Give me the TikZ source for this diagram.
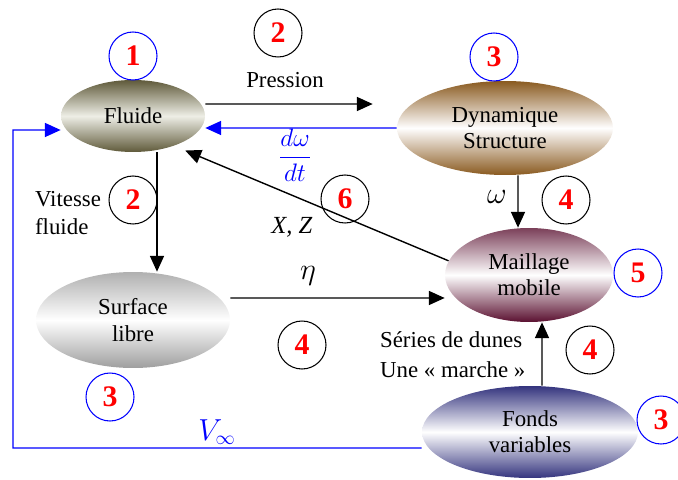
\documentclass[tikz,border=0pt]{standalone}
\usepackage{fontspec}
\setmainfont{Liberation Serif}
\usetikzlibrary{shapes.geometric,arrows.meta}
\definecolor{flc}{HTML}{5F5A3A}
\definecolor{flm}{HTML}{EEEEE6}
\definecolor{dyc}{HTML}{8A5A20}
\definecolor{mac}{HTML}{5A1030}
\definecolor{suc}{HTML}{B0B0B0}
\definecolor{foc}{HTML}{34347E}
\begin{document}
\begin{tikzpicture}[x=0.02cm,y=-0.02cm,
 blob/.style={ellipse, inner sep=0pt, align=center, font=\fontsize{13}{15}\selectfont},
 num/.style={circle, draw=#1, line width=0.6pt, minimum size=0.96cm, inner sep=0pt, text=red, font=\fontsize{17}{17}\selectfont\bfseries},
 arr/.style={-{Triangle[length=9pt,width=8pt]}, line width=0.8pt},
 lbl/.style={font=\fontsize{13}{16}\selectfont, inner sep=1pt},
 mlbl/.style={font=\fontsize{16}{18}\selectfont, inner sep=1pt}]
\useasboundingbox (0,0) rectangle (678,479);
\clip (0,0) rectangle (678,479);

% main nodes
\node[blob, minimum width=2.88cm, minimum height=1.44cm, top color=flc, bottom color=flc, middle color=flm] (fluide) at (133,116) {Fluide};
\node[blob, minimum width=4.32cm, minimum height=1.88cm, top color=dyc, bottom color=dyc, middle color=white] (dyn) at (505,128) {Dynamique\\Structure};
\node[blob, minimum width=3.36cm, minimum height=1.88cm, top color=mac!80, bottom color=mac, middle color=white] (maill) at (529,275) {Maillage\\mobile};
\node[blob, minimum width=3.88cm, minimum height=1.92cm, top color=suc, bottom color=suc!90!black, middle color=white] (surf) at (133,320) {Surface\\libre};
\node[blob, minimum width=4.32cm, minimum height=1.84cm, top color=foc, bottom color=foc, middle color=white] (fonds) at (530,432) {Fonds\\variables};

% numbered circles
\node[num=blue] (c1) at (133,56) {1};
\node[num=black] (c2a) at (278,33) {2};
\node[num=blue] (c3a) at (494,57) {3};
\node[num=black] (c2b) at (133,200) {2};
\node[num=black] (c6) at (345,199) {6};
\node[num=black] (c4a) at (566,200) {4};
\node[num=blue] (c5) at (638,273) {5};
\node[num=black] (c4b) at (302,345) {4};
\node[num=black] (c4c) at (590,350) {4};
\node[num=blue] (c3b) at (110,397) {3};
\node[num=blue] (c3c) at (661,420) {3};

% labels
\node[lbl] (pres) at (285,80) {Pression};
\node[mlbl, font=\fontsize{14.4}{16}\selectfont, text=blue] (dwdt) at (295,155) {$\displaystyle\frac{d\omega}{dt}$};
\node[mlbl] (om) at (497,197) {$\omega$};
\node[lbl, font=\fontsize{14}{16}\selectfont] (xz) at (292,227) {\textit{X, Z}};
\node[mlbl] (eta) at (308,276) {$\eta$};
\node[lbl, anchor=west, align=left] (vit) at (33,213) {Vitesse\\fluide};
\node[lbl, anchor=west, align=left, font=\fontsize{13}{17}\selectfont] (ser) at (378,355) {Séries de dunes\\Une « marche »};
\node[mlbl, text=blue] (vinf) at (217,432) {$V_\infty$};

% connectors
\draw[arr, shorten >=0.48cm] ([yshift=0.24cm]fluide.east) -- ([yshift=0.48cm]dyn.west);
\draw[arr, blue] (dyn.west) -- ([yshift=-0.24cm]fluide.east);
\draw[arr] ([xshift=0.26cm]dyn.south) -- ([xshift=-0.22cm]maill.north);
\draw[arr, shorten >=0.24cm] (maill.170) -- (fluide.-36);
\draw[arr] ([xshift=0.48cm]fluide.south) -- ([xshift=0.48cm]surf.north);
\draw[arr] ([yshift=0.44cm]surf.east) -- ([yshift=-0.46cm]maill.west);
\draw[arr] ([xshift=0.24cm]fonds.north) -- ([xshift=0.26cm]maill.south);
\coordinate (lb) at (13,448);
\coordinate (lt) at (13,130);
\draw[arr, blue] ([yshift=-0.32cm]fonds.west) -- (lb) -- (lt) -- ([yshift=-0.28cm]fluide.west);
\end{tikzpicture}
\end{document}
